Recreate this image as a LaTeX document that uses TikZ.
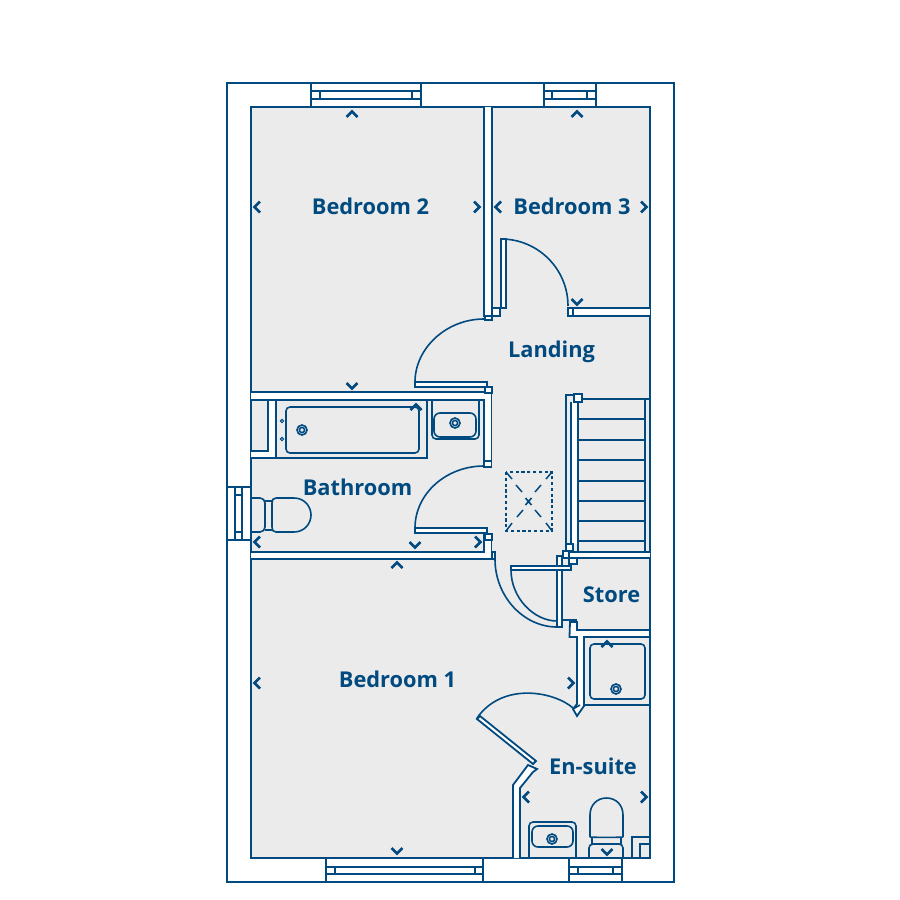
\documentclass[tikz,border=0pt]{standalone}
\usepackage{fontspec}
\setmainfont{Open Sans}
\definecolor{planblue}{HTML}{004A80}
\definecolor{floorgrey}{HTML}{EBEBEB}
\newcommand{\chevU}[2]{\draw[chev] (#1-5.5,#2+3) -- (#1,#2-2.5) -- (#1+5.5,#2+3);}
\newcommand{\chevD}[2]{\draw[chev] (#1-5.5,#2-3) -- (#1,#2+2.5) -- (#1+5.5,#2-3);}
\newcommand{\chevL}[2]{\draw[chev] (#1+3,#2-5.5) -- (#1-2.5,#2) -- (#1+3,#2+5.5);}
\newcommand{\chevR}[2]{\draw[chev] (#1-3,#2-5.5) -- (#1+2.5,#2) -- (#1-3,#2+5.5);}
\newcommand{\tapmark}[2]{\draw[fine] (#1,#2) circle[radius=5]; \draw[fine] (#1,#2) circle[radius=2.6];}
\tikzset{
  x=1pt,y=-1pt,
  wall/.style={draw=planblue,line width=2pt,line join=miter},
  fine/.style={draw=planblue,line width=1.6pt},
  wallw/.style={draw=planblue,fill=white,line width=1.8pt},
  chev/.style={draw=planblue,line width=2.8pt},
  hatch/.style={draw=planblue,line width=1.5pt},
  roomlabel/.style={text=planblue,font=\fontsize{21.8}{26}\selectfont\bfseries,inner sep=0pt,anchor=center},
}
\begin{document}
\begin{tikzpicture}
\useasboundingbox (0,0) rectangle (900,900);
\fill[white] (0,0) rectangle (900,900);
% shell
\draw[wall] (227,83) rectangle (674,882);
\draw[wall,fill=floorgrey] (251,107) rectangle (650,858);
% windows
\draw[fine] (311,83) -- (311,107) (421,83) -- (421,107) (311,91) rectangle (421,99) (320,91) -- (320,99) (412,91) -- (412,99);
\draw[fine] (544,83) -- (544,107) (596,83) -- (596,107) (544,91) rectangle (596,99) (552,91) -- (552,99) (587,91) -- (587,99);
\draw[fine] (326,858) -- (326,882) (483,858) -- (483,882) (326,867) rectangle (483,874) (335,867) -- (335,874) (475,867) -- (475,874);
\draw[fine] (569,858) -- (569,882) (622,858) -- (622,882) (569,867) rectangle (622,874) (578,867) -- (578,874) (613,867) -- (613,874);
\draw[fine] (227,487) -- (251,487) (227,540) -- (251,540) (235,487) rectangle (242,540) (235,495) -- (242,495) (235,532) -- (242,532);
% partition bedroom 2 / 3
\draw[wallw] (484,107) -- (484,316) -- (492,316) -- (492,107);
\draw[wallw] (492,308) rectangle (500,316);
\draw[wallw] (485,316) rectangle (492,320);
% door leaf bedroom 3
\draw[wallw] (501,239) rectangle (506,308);
\draw[fine] (501,239) .. controls (538,239) and (568,269) .. (568,306);
% bedroom 3 lower wall
\draw[wallw] (650,308) -- (568,308) -- (568,316) -- (650,316);
\draw[fine] (573,308) -- (573,316);
% bedroom 2 door
\draw[fine] (484,319) .. controls (446,319) and (415,348.5) .. (415,382);
\draw[wallw] (415,382) rectangle (487,387);
% bathroom walls
\draw[wallw] (251,392) -- (491.5,392) -- (491.5,467) -- (484,467) -- (484,400) -- (251,400);
\draw[wallw] (485,387) rectangle (492,393);
\draw[wallw] (484,461) rectangle (491.5,467);
% bathroom door
\draw[fine] (484,466) .. controls (446,466) and (415,493.8) .. (415,528);
\draw[wallw] (415,528) rectangle (487,533);
\draw[wallw] (251,559) -- (491.5,559) -- (491.5,534) -- (484,534) -- (484,552) -- (251,552);
\draw[wallw] (485,534) rectangle (492,540);
\draw[wallw] (492,552) rectangle (495,559);
% bathroom fittings
\draw[wallw] (251,451) -- (268,451) -- (268,400) -- (276,400) -- (276,458) -- (251,458);
\draw[fine] (276,400) -- (276,458) -- (427,458) -- (427,400);
\draw[fine,rounded corners=4pt] (286,407) rectangle (419,453);
\tapmark{302}{430}
\draw[draw=planblue,line width=1pt] (282,421) circle[radius=1.7] (282,439) circle[radius=1.7];
\draw[fine,rounded corners=4pt] (432,400) -- (432,439) -- (479,439) -- (479,400);
\draw[fine,rounded corners=6pt] (434,413) rectangle (476,437);
\tapmark{455}{423}
% bathroom toilet
\draw[fine,rounded corners=5pt] (251,498) -- (265,498) -- (265,532) -- (251,532);
\draw[fine] (265,501) -- (272,501) (265,530) -- (272,530);
\draw[fine] (276,498) -- (294,498) .. controls (304,498) and (311,506) .. (311,515) .. controls (311,524) and (304,532) .. (294,532) -- (276,532) .. controls (273,532) and (272,530) .. (272,527) -- (272,503) .. controls (272,500) and (273,498) .. (276,498);
% stairs
\fill[white] (571,402) rectangle (578,544);
\draw[fine] (566,546) -- (566,395) -- (574,395);
\draw[fine] (571,402) -- (571,544);
\draw[wall] (578,402) -- (578,552);
\draw[fine] (582,399) -- (650,399);
\draw[fine] (645,399) -- (645,552);
\foreach \ty in {419,440,460,481,501,521,541} {\draw[fine] (578,\ty) -- (645,\ty);}
\draw[wallw] (574,394) rectangle (582,402);
\draw[wallw] (566,544) rectangle (573,551);
% store
\draw[wallw] (650,558) -- (568,558) -- (568,552) -- (650,552);
\draw[wallw] (563,551) rectangle (569,558);
\draw[wallw] (569,558) rectangle (577,564);
\draw[wallw] (557,556) rectangle (562,627);
% doors by store
\draw[wallw] (511,566) rectangle (571,570);
\draw[fine] (511,570) .. controls (511,598) and (534,621) .. (557,621);
\draw[fine] (495,559) .. controls (495,597) and (524,627) .. (557,627);
\draw[wallw] (562,620) -- (577,620);
% wall round store, en-suite
\draw[wallw] (570,622) -- (577,622) -- (577,630) -- (650,630) -- (650,637) -- (584,637) -- (584,706) -- (577,716) -- (573,709) -- (577,704) -- (577,637) -- (569.5,637) -- cycle;
\draw[fine] (584,705) -- (650,705);
\draw[fine] (573,709) -- (580,705);
% shower
\draw[fine,rounded corners=4pt] (590,644) rectangle (645,699);
\tapmark{616}{689}
% en-suite door
\draw[fine] (573,708) .. controls (555,692) and (503,681) .. (477,718);
\draw[wallw] (477,719) -- (480,716) -- (536,761) -- (533,764) -- cycle;
\draw[wallw] (513,858) -- (513,785) -- (528,765) -- (537,769) -- (533,772) -- (520,788) -- (520,858);
% en-suite fittings
\draw[fine,rounded corners=4pt] (529,858) -- (529,822) -- (576,822) -- (576,858);
\draw[fine,rounded corners=6pt] (532,826) rectangle (573,847);
\tapmark{552}{839}
\draw[fine] (590,837) -- (590,815) .. controls (590,805) and (597,798) .. (606.5,798) .. controls (616,798) and (623,805) .. (623,815) -- (623,837);
\draw[fine] (590,837) .. controls (595,837.5) and (618,837.5) .. (623,837);
\draw[fine] (592,837) -- (592,844) (621,837) -- (621,844);
\draw[fine,rounded corners=4pt] (589,858) -- (589,844) -- (623,844) -- (623,858);
\draw[fine] (650,837) -- (632,837) -- (632,858) (650,844) -- (640,844) -- (640,858);
% loft hatch
\draw[hatch,dash pattern=on 3.2pt off 2.6pt] (506,472) rectangle (552,531);
\draw[hatch] (506,472) -- (512,479) (516,485) -- (522,492) (552,472) -- (546,479) (541,485) -- (535,492)
 (506,531) -- (512,523) (517,517) -- (523,510) (552,531) -- (546,523) (541,517) -- (535,510);
\draw[draw=planblue,line width=1.6pt] (525.5,498) -- (531.5,505) (531.5,498) -- (525.5,505);
% direction marks
\chevU{352}{114} \chevD{352}{386} \chevL{257}{207} \chevR{477}{207}
\chevL{498}{207} \chevR{644}{207} \chevU{577}{114} \chevD{577}{302}
\chevU{416}{407} \chevL{257}{542} \chevR{478}{542} \chevD{415}{545}
\chevU{397}{565} \chevL{257}{683} \chevR{571}{683} \chevD{397}{851}
\chevL{526}{797} \chevR{644}{797} \chevD{607}{852} \chevU{607}{644}
% labels
\node[roomlabel] (bed2) at (370.5,206) {Bedroom 2};
\node[roomlabel] (bed3) at (572,206) {Bedroom 3};
\node[roomlabel] (land) at (551.5,352) {Landing};
\node[roomlabel] (bath) at (357.5,487) {Bathroom};
\node[roomlabel] (store) at (611.5,595) {Store};
\node[roomlabel] (bed1) at (397.5,679) {Bedroom 1};
\node[roomlabel] (ensuite) at (593,766) {En-suite};
\end{tikzpicture}
\end{document}
